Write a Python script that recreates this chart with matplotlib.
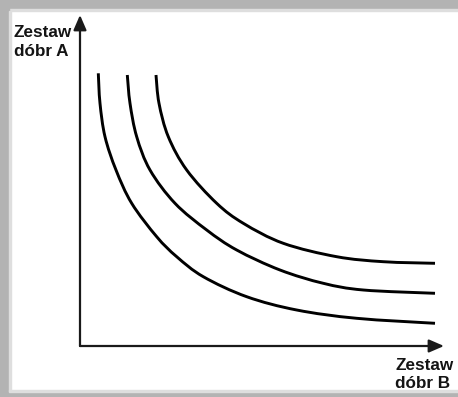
import matplotlib
matplotlib.use("Agg")
import matplotlib.pyplot as plt
import numpy as np
from matplotlib.patches import Rectangle, PathPatch
from matplotlib.path import Path

# ---- data (x = amount of good B, y = amount of good A) ----
curve_inner_x = [18.3, 20, 25, 36, 51.7, 76.7, 96.7, 123.3, 166.7, 216.7, 276.7, 355]
curve_inner_y = [272.7, 242.7, 209.3, 176, 142.7, 109.3, 89.3, 69.3, 49.3, 36, 27.7, 22.7]

curve_mid_x = [47.3, 50, 56.7, 70, 95, 126.7, 156.7, 200, 243.3, 283.3, 355]
curve_mid_y = [271, 242.7, 209.3, 176, 142.7, 116, 96, 76, 62.7, 56, 52.7]

curve_outer_x = [76, 79, 88.3, 106.7, 136.7, 163.3, 203.3, 256.7, 303.3, 355]
curve_outer_y = [271, 242.7, 209.3, 176, 142.7, 122.7, 102.7, 89.3, 84.3, 82.7]

y_label = ["Zestaw", "dóbr A"]
x_label = ["Zestaw", "dóbr B"]


def smooth_path(xs, ys):
    """Smooth (Catmull-Rom style cubic Bezier) path passing through the given points."""
    p = np.column_stack([xs, ys]).astype(float)
    n = len(p)
    verts = [p[0]]
    codes = [Path.MOVETO]
    for i in range(n - 1):
        p0 = p[i - 1] if i > 0 else p[i]
        p1 = p[i]
        p2 = p[i + 1]
        p3 = p[i + 2] if i + 2 < n else p[i + 1]
        c1 = p1 + (p2 - p0) / 6.0
        c2 = p2 - (p3 - p1) / 6.0
        verts += [c1, c2, p2]
        codes += [Path.CURVE4] * 3
    return Path(verts, codes)


W, H = 458, 397
fig = plt.figure(figsize=(W / 100, H / 100), dpi=100)
fig.patch.set_facecolor("white")

# gray frame around the picture
gray = "#b3b3b3"
light = "#dedede"
fig.patches.append(Rectangle((0, 1 - 9 / H), 1, 9 / H, transform=fig.transFigure,
                             color=gray, zorder=0))
fig.patches.append(Rectangle((9 / W, 1 - 11 / H), 1, 2 / H, transform=fig.transFigure,
                             color=light, zorder=0))
fig.patches.append(Rectangle((0, 0), 9 / W, 1, transform=fig.transFigure,
                             color=gray, zorder=0))
fig.patches.append(Rectangle((9 / W, 5 / H), 2 / W, 1 - 16 / H, transform=fig.transFigure,
                             color=light, zorder=0))
fig.patches.append(Rectangle((0, 0), 1, 5 / H, transform=fig.transFigure,
                             color=gray, zorder=0))
fig.patches.append(Rectangle((9 / W, 5 / H), 1, 2 / H, transform=fig.transFigure,
                             color=light, zorder=0))

# axes: origin at pixel (80, 346); 1 data unit = 1 pixel
x0, y0 = 80, 346
aw, ah = 368, 331
ax = fig.add_axes([x0 / W, (H - y0) / H, aw / W, ah / H])
ax.set_xlim(0, aw)
ax.set_ylim(0, ah)
ax.axis("off")
ax.patch.set_alpha(0)

arrow_kw = dict(arrowstyle="-|>,head_length=0.6,head_width=0.26", color="#1a1a1a",
                lw=1.6, shrinkA=0, shrinkB=0, mutation_scale=15)
ax.annotate("", xy=(0, 331), xytext=(0, 0), arrowprops=arrow_kw, annotation_clip=False)
ax.annotate("", xy=(364, 0), xytext=(0, 0), arrowprops=arrow_kw, annotation_clip=False)

for xs, ys in [(curve_inner_x, curve_inner_y), (curve_mid_x, curve_mid_y),
               (curve_outer_x, curve_outer_y)]:
    patch = PathPatch(smooth_path(xs, ys), fill=False, edgecolor="black", lw=2.1,
                      capstyle="butt", joinstyle="round", clip_on=False)
    ax.add_patch(patch)

tkw = dict(fontfamily="Liberation Sans", fontweight="bold", fontsize=12.3,
           color="#141414", va="baseline", ha="left")
fig.text(14 / W, 1 - 37 / H, y_label[0], **tkw)
fig.text(14 / W, 1 - 55.5 / H, y_label[1], **tkw)
fig.text(395 / W, 1 - 370 / H, x_label[0], **tkw)
fig.text(395 / W, 1 - 388.5 / H, x_label[1], **tkw)

fig.savefig("out.png", dpi=100)
